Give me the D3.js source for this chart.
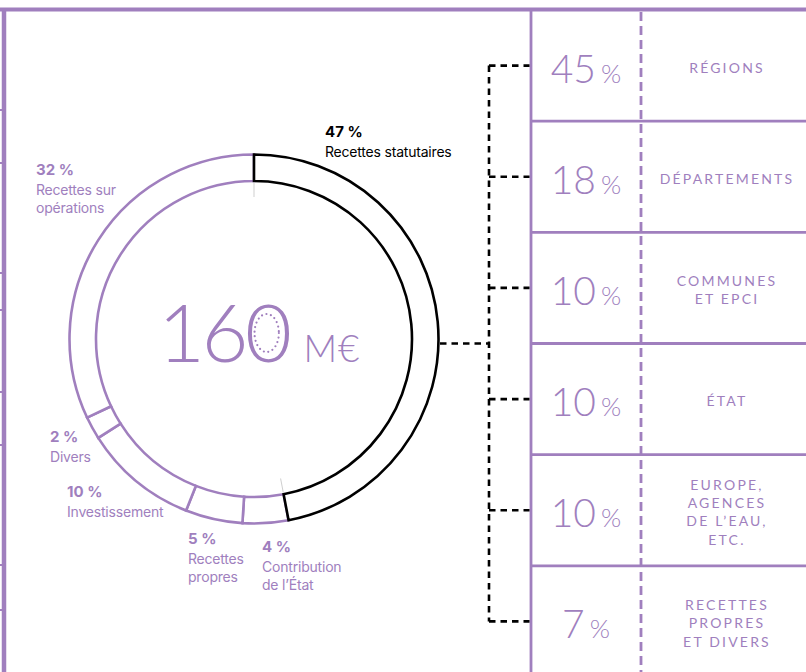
<!DOCTYPE html>
<html>
<head>
<meta charset="utf-8">
<script src="https://cdn.jsdelivr.net/npm/d3@7/dist/d3.min.js"></script>
<style>
  body { margin: 0; background: #fff; }
  svg { display: block; }
</style>
</head>
<body>
<script>
var width = 806
var height = 672
var purple = '#a07fbe'

// how the budget splits (donut)
var segNames = ['Recettes statutaires', 'Contribution de l’État', 'Recettes propres', 'Investissement', 'Divers', 'Recettes sur opérations']
var segValues = [47, 4, 5, 10, 2, 32]
var segLines = [['Recettes statutaires'], ['Contribution', 'de l’État'], ['Recettes', 'propres'], ['Investissement'], ['Divers'], ['Recettes sur', 'opérations']]
var totalText = '160'
var unitText = 'M€'

// where the statutory income comes from (table)
var sourceLines = [['RÉGIONS'], ['DÉPARTEMENTS'], ['COMMUNES', 'ET EPCI'], ['ÉTAT'], ['EUROPE,', 'AGENCES', 'DE L’EAU,', 'ETC.'], ['RECETTES', 'PROPRES', 'ET DIVERS']]
var sourceValues = [45, 18, 10, 10, 10, 7]

// layout only
var cx = 254
var cy = 339
var rIn = 158
var rOut = 184.5
var labelPos = [[325, 137], [262, 552], [188, 544], [67, 497], [50, 442], [36, 175]]
var frameTicks = [110, 163, 273, 310, 392, 445, 565, 610]
var tableX = 531
var colX = 641
var linkX = 489

var svg = d3.select('body').append('svg')
  .attr('width', width)
  .attr('height', height)

// frame
svg.append('line')
  .attr('x1', 0).attr('x2', width)
  .attr('y1', 9.5).attr('y2', 9.5)
  .style('stroke', purple).style('stroke-width', 4)
svg.append('line')
  .attr('x1', 4).attr('x2', 4)
  .attr('y1', 8).attr('y2', height)
  .style('stroke', purple).style('stroke-width', 4.5)
svg.selectAll('.tick')
  .data(frameTicks)
  .enter().append('line')
  .attr('x1', 0).attr('x2', 5)
  .attr('y1', d => d).attr('y2', d => d)
  .style('stroke', purple).style('stroke-width', 2)

// donut
var pie = d3.pie().sort(null).value(d => d)(segValues)
var arc = d3.arc().innerRadius(rIn).outerRadius(rOut)
var donut = svg.append('g').attr('transform', 'translate(' + cx + ',' + cy + ')')

// purple slices first, black one on top
var order = pie.slice(1).concat([pie[0]])
donut.selectAll('path')
  .data(order)
  .enter().append('path')
  .attr('d', arc)
  .style('fill', '#fff')
  .style('stroke', d => d.index === 0 ? '#000' : purple)
  .style('stroke-width', 2.6)

// faint ticks left inside the ring
donut.selectAll('.faint')
  .data([pie[0].startAngle, pie[0].endAngle])
  .enter().append('line')
  .attr('x1', a => Math.sin(a) * (rIn - 1.5))
  .attr('y1', a => -Math.cos(a) * (rIn - 1.5))
  .attr('x2', a => Math.sin(a) * (rIn - 16))
  .attr('y2', a => -Math.cos(a) * (rIn - 16))
  .style('stroke', '#cfcfcf').style('stroke-width', 1)

// slice labels
var labels = svg.selectAll('.seglabel')
  .data(pie)
  .enter().append('text')
  .attr('x', (d, i) => labelPos[i][0])
  .attr('y', (d, i) => labelPos[i][1])
  .style('font-family', 'Inter, sans-serif')
  .style('fill', d => d.index === 0 ? '#000' : purple)

labels.append('tspan')
  .attr('x', (d, i) => labelPos[i][0])
  .style('font-weight', 700)
  .style('font-size', '15px')
  .text(d => d.value + ' %')

labels.each(function(d, i) {
  var t = d3.select(this)
  segLines[i].forEach(function(line, k) {
    t.append('tspan')
      .attr('x', labelPos[i][0])
      .attr('dy', k === 0 ? 20 : 18)
      .style('font-size', '14px')
      .style('letter-spacing', '-0.2px')
      .text(line)
  })
})

// total in the middle
var total = svg.append('text')
  .attr('x', 158)
  .attr('y', 362)
  .style('font-family', 'Lato, sans-serif')
  .style('font-weight', 300)
  .style('font-size', '81px')
  .style('letter-spacing', '-3.5px')
  .style('fill', purple)
  .text(totalText)

// dotted coin inside the zero
var ext = total.node().getExtentOfChar(2)
svg.append('ellipse')
  .attr('cx', ext.x + ext.width / 2)
  .attr('cy', 333)
  .attr('rx', ext.width * 0.28)
  .attr('ry', 19)
  .style('fill', 'none')
  .style('stroke', purple)
  .style('stroke-width', 2.2)
  .style('stroke-linecap', 'round')
  .style('stroke-dasharray', '0 4.6')

svg.append('text')
  .attr('x', ext.x + ext.width + 15)
  .attr('y', 362)
  .style('font-family', 'Lato, sans-serif')
  .style('font-weight', 300)
  .style('font-size', '37px')
  .style('letter-spacing', '1px')
  .style('fill', purple)
  .text(unitText)

// table
var y = d3.scaleBand().domain(d3.range(sourceValues.length)).range([10, 677])
var mid = i => y(i) + y.bandwidth() / 2

svg.append('line')
  .attr('x1', tableX).attr('x2', tableX)
  .attr('y1', 10).attr('y2', height)
  .style('stroke', purple).style('stroke-width', 2.8)
svg.append('line')
  .attr('x1', colX).attr('x2', colX)
  .attr('y1', 12).attr('y2', height)
  .style('stroke', purple).style('stroke-width', 2.8)
  .style('stroke-dasharray', '9 5')
svg.selectAll('.row')
  .data(d3.range(1, sourceValues.length))
  .enter().append('line')
  .attr('x1', tableX).attr('x2', width)
  .attr('y1', i => y(i)).attr('y2', i => y(i))
  .style('stroke', purple).style('stroke-width', 2.8)

var pct = svg.selectAll('.pct')
  .data(sourceValues)
  .enter().append('text')
  .attr('x', (tableX + colX) / 2)
  .attr('y', (d, i) => mid(i) + 17)
  .attr('text-anchor', 'middle')
  .style('font-family', 'Lato, sans-serif')
  .style('font-weight', 300)
  .style('fill', purple)
pct.append('tspan')
  .style('font-size', '39px')
  .text(d => d)
pct.append('tspan')
  .attr('dx', 5)
  .style('font-size', '26px')
  .text('%')

svg.selectAll('.src')
  .data(sourceLines)
  .enter().append('text')
  .attr('text-anchor', 'middle')
  .style('font-family', 'Lato, sans-serif')
  .style('font-size', '14px')
  .style('letter-spacing', '2.2px')
  .style('fill', purple)
  .each(function(lines, i) {
    var t = d3.select(this)
    var first = mid(i) + 7 - (lines.length - 1) * 18.3 / 2
    lines.forEach(function(line, k) {
      t.append('tspan')
        .attr('x', 727)
        .attr('y', first + k * 18.3)
        .text(line)
    })
  })

// dashed links from the statutory slice to the table
var mids = sourceValues.map((d, i) => mid(i))
var link = svg.append('g')
  .style('stroke', '#000')
  .style('stroke-width', 2.6)
  .style('fill', 'none')
  .style('stroke-dasharray', '6.5 5')
link.append('line')
  .attr('x1', linkX).attr('x2', linkX)
  .attr('y1', mids[0]).attr('y2', mids[mids.length - 1])
link.selectAll('.stub')
  .data(mids)
  .enter().append('line')
  .attr('x1', linkX).attr('x2', tableX - 1.5)
  .attr('y1', d => d).attr('y2', d => d)
link.append('line')
  .attr('x1', cx + rOut + 1.5).attr('x2', linkX)
  .attr('y1', d3.mean(mids)).attr('y2', d3.mean(mids))
</script>
</body>
</html>
